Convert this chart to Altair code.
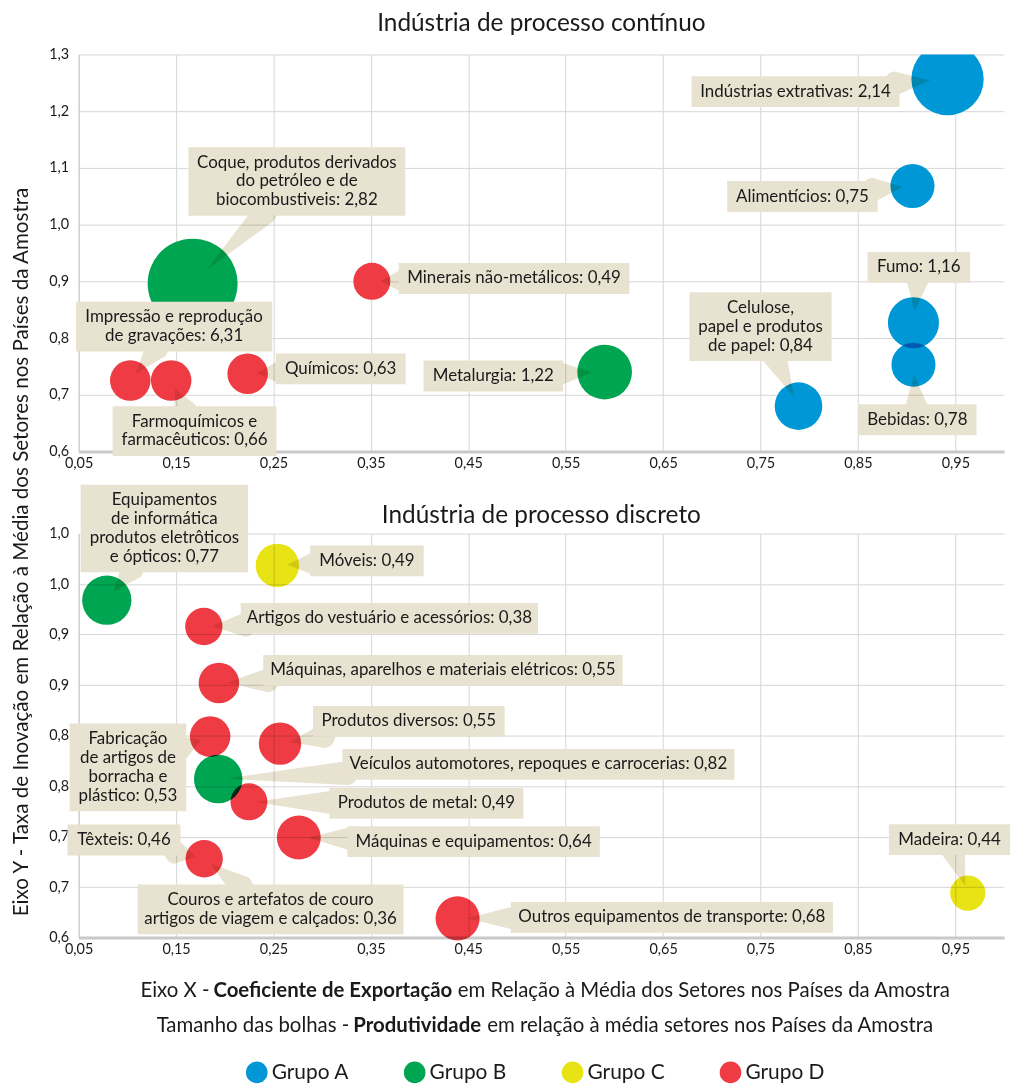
import math
import unicodedata
import altair as alt
import pandas as pd

FONT = "Lato"
TXT = "#1a1a1a"
BOX_FILL = "#e8e2d0"
GRUPOS = ["Grupo A", "Grupo B", "Grupo C", "Grupo D"]
CORES = ["#0097d6", "#00a551", "#e8e314", "#ee3b44"]

# ---------------- Indústria de processo contínuo ----------------
cont_setor = [
    "Indústrias extrativas",
    "Alimentícios",
    "Fumo",
    "Bebidas",
    "Celulose,\npapel e produtos\nde papel",
    "Coque, produtos derivados\ndo petróleo e de\nbiocombustiveis",
    "Minerais não-metálicos",
    "Impressão e reprodução\nde gravações",
    "Farmoquímicos e\nfarmacêuticos",
    "Químicos",
    "Metalurgia",
]
cont_grupo = ["Grupo A", "Grupo A", "Grupo A", "Grupo A", "Grupo A",
              "Grupo B", "Grupo D", "Grupo D", "Grupo D", "Grupo D", "Grupo B"]
cont_x = [0.942, 0.906, 0.907, 0.907, 0.789, 0.167, 0.351, 0.103, 0.145, 0.2235, 0.590]
cont_y = [1.2565, 1.068, 0.827, 0.753, 0.680, 0.896, 0.900, 0.725, 0.725, 0.737, 0.740]
cont_prod = [2.14, 0.75, 1.16, 0.78, 0.84, 2.82, 0.49, 6.31, 0.66, 0.63, 1.22]
cont_bolha = [4.20, 1.56, 2.10, 1.56, 1.82, 6.50, 1.10, 1.32, 1.32, 1.32, 2.40]
cont_lab_x = [0.786, 0.793, 0.9125, 0.911, 0.750, 0.274, 0.497, 0.148, 0.169, 0.319, 0.4757]
cont_lab_y = [1.2346, 1.0495, 0.9246, 0.656, 0.820, 1.076, 0.905, 0.820, 0.636, 0.7456, 0.733]

# ---------------- Indústria de processo discreto ----------------
disc_setor = [
    "Equipamentos\nde informática\nprodutos eletrôticos\ne ópticos",
    "Móveis",
    "Artigos do vestuário e acessórios",
    "Máquinas, aparelhos e materiais elétricos",
    "Produtos diversos",
    "Fabricação\nde artigos de\nborracha e\nplástico",
    "Veículos automotores, repoques e carrocerias",
    "Produtos de metal",
    "Máquinas e equipamentos",
    "Têxteis",
    "Couros e artefatos de couro\nartigos de viagem e calçados",
    "Outros equipamentos de transporte",
    "Madeira",
]
disc_grupo = ["Grupo B", "Grupo C", "Grupo D", "Grupo D", "Grupo D", "Grupo D", "Grupo B",
              "Grupo D", "Grupo D", "Grupo D", "Grupo D", "Grupo D", "Grupo C"]
disc_x = [0.0789, 0.254, 0.1785, 0.194, 0.2567, 0.185, 0.1933, 0.2248, 0.276, 0.1789, 0.1789, 0.439, 0.9628]
disc_y = [0.934, 0.9685, 0.908, 0.852, 0.792, 0.799, 0.757, 0.7344, 0.699, 0.678, 0.678, 0.619, 0.644]
disc_prod = [0.77, 0.49, 0.38, 0.55, 0.55, 0.53, 0.82, 0.49, 0.64, 0.46, 0.36, 0.68, 0.44]
disc_bolha = [1.95, 1.51, 1.12, 1.32, 1.44, 1.32, 1.89, 1.10, 1.55, 1.12, 1.12, 1.56, 1.00]
disc_lab_x = [0.138, 0.346, 0.369, 0.424, 0.389, 0.1006, 0.522, 0.407, 0.4555, 0.0965, 0.247, 0.659, 0.944]
disc_lab_y = [1.005, 0.973, 0.916, 0.8645, 0.814, 0.7685, 0.7714, 0.733, 0.695, 0.6966, 0.628, 0.620, 0.697]

X_TICKS = [0.05, 0.15, 0.25, 0.35, 0.45, 0.55, 0.65, 0.75, 0.85, 0.95]
Y_TICKS_CONT = [0.6, 0.7, 0.8, 0.9, 1.0, 1.1, 1.2, 1.3]
Y_TICKS_DISC = [0.6, 0.65, 0.7, 0.75, 0.8, 0.85, 0.9, 0.95, 1.0]

TITULO_CONT = "Indústria de processo contínuo"
TITULO_DISC = "Indústria de processo discreto"
Y_TITULO = "Eixo Y - Taxa de Inovação em Relação à Média dos Setores nos Países da Amostra"
LINHA1 = ["Eixo X -", "Coeficiente de Exportação", "em Relação à Média dos Setores nos Países da Amostra"]
LINHA2 = ["Tamanho das bolhas -", "Produtividade", "em relação à média setores nos Países da Amostra"]

# ---------------- layout ----------------
W = 930
H_CONT = 399
H_DISC = 406
X_DOM = [0.05, 1.0]
Y_CONT = [0.6, 1.3]
Y_DISC = [0.6, 1.0]
LAB_FS = 17
LINE_H = 19
BOX_PADX = 10
BOX_PADY = 12
R_UNIT = 20.0
SIZE_UNIT = math.pi * R_UNIT ** 2
TIP = 0.45
BASE_W = 24
TITLE_FS = 24.5

_L = dict(a=.51, b=.56, c=.46, d=.56, e=.52, f=.32, g=.50, h=.56, i=.24, j=.24, k=.50, l=.24, m=.85,
          n=.56, o=.56, p=.56, q=.56, r=.37, s=.42, t=.35, u=.56, v=.51, w=.78, x=.49, y=.51, z=.45,
          A=.66, B=.63, C=.66, D=.74, E=.56, F=.54, G=.71, H=.75, I=.28, J=.41, K=.64, L=.50, M=.90,
          N=.75, O=.79, P=.60, Q=.79, R=.62, S=.52, T=.58, U=.72, V=.66, W=1.0, X=.64, Y=.61, Z=.60)
_L.update({" ": .19, ",": .21, ".": .21, ":": .24, "-": .35})


def tw(s, size, bold=False):
    tot = 0.0
    for ch in s:
        b = unicodedata.normalize("NFD", ch)[0]
        tot += .58 if b.isdigit() else _L.get(b, .55)
    return tot * size * (1.04 if bold else 1.0)


def fmt(v):
    return f"{v:.2f}".replace(".", ",")


def montar(setor, grupo, xs, ys, prod, bolha, lx, ly, ydom, h):
    xr = X_DOM[1] - X_DOM[0]
    yr = ydom[1] - ydom[0]
    sx = lambda v: (v - X_DOM[0]) / xr * W
    sy = lambda v: (ydom[1] - v) / yr * h
    ix = lambda p: X_DOM[0] + p / W * xr
    iy = lambda p: ydom[1] - p / h * yr
    bub, box, ptr = [], [], []
    vistos = set()
    for i in range(len(setor)):
        linhas = setor[i].split("\n")
        linhas[-1] = f"{linhas[-1]}: {fmt(prod[i])}"
        n = len(linhas)
        bw = max(tw(l, LAB_FS) for l in linhas) + 2 * BOX_PADX
        bh = LINE_H * n + BOX_PADY
        cx, cy = sx(lx[i]), sy(ly[i])
        box.append({"x": ix(cx - bw / 2), "x2": ix(cx + bw / 2), "y": iy(cy + bh / 2),
                    "y2": iy(cy - bh / 2), "xc": lx[i], "yc": iy(cy - (n - 1) * LINE_H / 2),
                    "texto": linhas})
        key = (xs[i], ys[i])
        if key not in vistos:
            vistos.add(key)
            bub.append({"x": xs[i], "y": ys[i], "grupo": grupo[i], "bolha": bolha[i]})
        r = R_UNIT * math.sqrt(bolha[i])
        bx, by = sx(xs[i]), sy(ys[i])
        dx, dy = cx - bx, cy - by
        d = math.hypot(dx, dy)
        tx, ty = bx + dx / d * TIP * r, by + dy / d * TIP * r
        ux, uy = tx - cx, ty - cy
        t = min(bw / 2 / abs(ux) if ux else 1e9, bh / 2 / abs(uy) if uy else 1e9)
        if t < 1:
            L = math.hypot(ux, uy)
            ex, ey = cx + ux * t - ux / L * 4, cy + uy * t - uy / L * 4
            ptr.append({"pid": i, "k": 0, "x": ix(ex), "y": iy(ey), "w": BASE_W})
            ptr.append({"pid": i, "k": 1, "x": ix(tx), "y": iy(ty), "w": 0})
    return bub, box, ptr


def painel(dados, ydom, yticks, ylab, h, titulo, ty, clip):
    bub, box, ptr = dados

    def X(f):
        return alt.X(f"{f}:Q", title=None,
                     scale=alt.Scale(domain=X_DOM, nice=False, zero=False),
                     axis=alt.Axis(values=X_TICKS, labelExpr="replace(format(datum.value, '.2f'), '.', ',')",
                                   ticks=False, labelFlush=False, labelPadding=5, domainWidth=3,
                                   domainColor="#c9c9c9", grid=True))

    def Y(f):
        return alt.Y(f"{f}:Q", title=None,
                     scale=alt.Scale(domain=ydom, nice=False, zero=False),
                     axis=alt.Axis(values=yticks, labelExpr=ylab, ticks=False, labelPadding=10,
                                   domainWidth=1, domainColor="#c9c9c9", grid=True))

    c_bub = alt.Chart(alt.Data(values=bub)).mark_circle(opacity=1, blend="multiply", clip=clip).encode(
        x=X("x"), y=Y("y"),
        size=alt.Size("bolha:Q", scale=alt.Scale(domain=[0, 1], range=[0, SIZE_UNIT]), legend=None),
        color=alt.Color("grupo:N", scale=alt.Scale(domain=GRUPOS, range=CORES), legend=None),
    )
    c_ptr = alt.Chart(alt.Data(values=ptr)).mark_trail(color=BOX_FILL, blend="multiply").encode(
        x=X("x"), y=Y("y"),
        size=alt.Size("w:Q", scale=None, legend=None),
        detail="pid:N", order="k:Q",
    )
    c_box = alt.Chart(alt.Data(values=box)).mark_rect(color=BOX_FILL).encode(
        x=X("x"), x2="x2:Q", y=Y("y"), y2="y2:Q"
    )
    c_txt = alt.Chart(alt.Data(values=box)).mark_text(
        fontSize=LAB_FS, lineHeight=LINE_H, color=TXT, align="center", baseline="middle", font=FONT
    ).encode(x=X("xc"), y=Y("yc"), text="texto:N")
    c_tit = alt.Chart(alt.Data(values=[{"t": titulo}])).mark_text(
        fontSize=TITLE_FS, color=TXT, align="center", baseline="alphabetic", font=FONT
    ).encode(x=alt.value(W / 2), y=alt.value(ty), text="t:N")
    return alt.layer(c_bub, c_ptr, c_box, c_txt, c_tit).resolve_scale(size="independent").properties(
        width=W, height=h
    )


topo = painel(montar(cont_setor, cont_grupo, cont_x, cont_y, cont_prod, cont_bolha,
                     cont_lab_x, cont_lab_y, Y_CONT, H_CONT),
              Y_CONT, Y_TICKS_CONT, "replace(format(datum.value, '.1f'), '.', ',')",
              H_CONT, TITULO_CONT, -24, True)
baixo = painel(montar(disc_setor, disc_grupo, disc_x, disc_y, disc_prod, disc_bolha,
                      disc_lab_x, disc_lab_y, Y_DISC, H_DISC),
               Y_DISC, Y_TICKS_DISC, "replace(format(round(datum.value * 10) / 10, '.1f'), '.', ',')",
               H_DISC, TITULO_DISC, -11, False)

# ---------------- footer: x-axis description + legend ----------------
FOOT_FS = 20.5
LEG_Y = 103
FOOT_H = LEG_Y + 13
LEG_STEP = 158.7
LEG_FIRST = 179
d0 = -LEG_FIRST / LEG_STEP
d1 = d0 + W / LEG_STEP
leg = [{"grupo": g, "i": k} for k, g in enumerate(GRUPOS)]

camadas = [
    alt.Chart(alt.Data(values=leg)).mark_circle(size=470, opacity=1).encode(
        x=alt.X("i:Q", scale=alt.Scale(domain=[d0, d1]), axis=None),
        y=alt.value(LEG_Y),
        color=alt.Color("grupo:N", scale=alt.Scale(domain=GRUPOS, range=CORES), legend=None),
    ),
    alt.Chart(alt.Data(values=leg)).mark_text(align="left", baseline="middle", dx=15, fontSize=21,
                                             color=TXT, font=FONT).encode(
        x=alt.X("i:Q", scale=alt.Scale(domain=[d0, d1]), axis=None),
        y=alt.value(LEG_Y + 1), text="grupo:N",
    ),
]
sp = tw(" ", FOOT_FS)
for linha, yy in ((LINHA1, 21.5), (LINHA2, 56.5)):
    w1 = tw(linha[0], FOOT_FS) + sp
    w2 = tw(linha[1], FOOT_FS, bold=True)
    w3 = tw(linha[2], FOOT_FS) + sp
    start = W / 2 - (w1 + w2 + w3) / 2
    segs = [(linha[0], start + w1 - sp, "right", "normal"),
            (linha[1], start + w1, "left", "bold"),
            (linha[2], start + w1 + w2 + sp, "left", "normal")]
    for txt, px, al, fw in segs:
        camadas.append(
            alt.Chart(alt.Data(values=[{"t": txt}])).mark_text(
                align=al, baseline="middle", fontSize=FOOT_FS, fontWeight=fw, color=TXT, font=FONT
            ).encode(x=alt.value(px), y=alt.value(yy), text="t:N")
        )
rodape = alt.layer(*camadas).properties(width=W, height=FOOT_H)

coluna = alt.vconcat(topo, baixo, rodape, spacing=13.5).resolve_scale(
    x="independent", y="independent", size="independent"
)

ytit = alt.Chart(alt.Data(values=[{"t": Y_TITULO}])).mark_text(
    angle=270, fontSize=20.7, color=TXT, baseline="middle", align="center", font=FONT
).encode(text="t:N", x=alt.value(14), y=alt.value(500)).properties(width=22, height=1000)

chart = alt.hconcat(ytit, coluna, spacing=16).properties(
    padding={"left": 0, "top": 0, "right": 0, "bottom": 0}
).configure(font=FONT).configure_view(
    stroke=None
).configure_axis(
    labelFont=FONT, labelFontSize=14.5, labelColor=TXT, gridColor="#d6d6d6", gridWidth=1
)

chart.save("out.html", embed_options={"renderer": "svg", "actions": False})
